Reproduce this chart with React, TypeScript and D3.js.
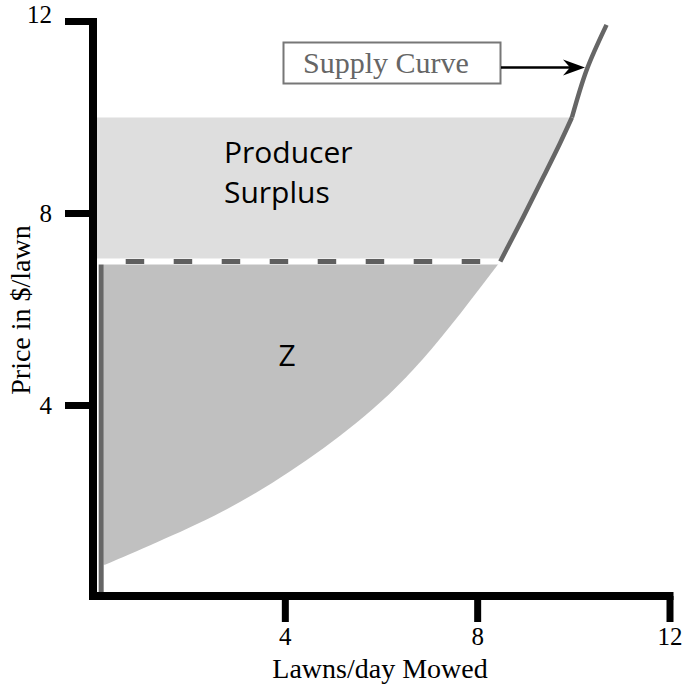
import React from "react";
import * as d3 from "d3";

// Data
const xTicks = [4, 8, 12];
const yTicks = [4, 8, 12];
const xTickLabels = ["4", "8", "12"];
const yTickLabels = ["4", "8", "12"];

// Lower part of the supply curve (edge of area Z), quantity / price
const zCurveQty = [0.25, 1.33, 2.71, 4.1, 5.48, 6.87, 8.47];
const zCurvePrice = [0.68, 1.15, 1.8, 2.63, 3.64, 4.98, 7.0];

// Supply curve between market price and top of surplus area
const supplyMidQty = [8.47, 8.95, 9.37, 9.71, 9.96];
const supplyMidPrice = [7.0, 7.93, 8.77, 9.46, 10.0];

// Supply curve above the surplus area
const supplyTopQty = [9.96, 10.27, 10.68];
const supplyTopPrice = [10.0, 11.0, 11.93];

const marketPrice = 7;
const topPrice = 10;
const leftQty = 0.08; // where the light area starts (right of axis)
const zLeftQty = 0.22; // right of the grey vertical line
const grayLineQty = 0.17;
const zBottomPrice = 0.68;

export default function App() {
  const x = d3.scaleLinear().domain([0, 12]).range([93, 670]);
  const y = d3.scaleLinear().domain([0, 12]).range([597.5, 21.5]);

  const pts = (qs: number[], ps: number[]) => qs.map((q, i) => [q, ps[i]] as [number, number]);

  const line = d3
    .line<[number, number]>()
    .x((d) => x(d[0]))
    .y((d) => y(d[1]))
    .curve(d3.curveNatural);

  const zPts = pts(zCurveQty, zCurvePrice);
  const midPts = pts(supplyMidQty, supplyMidPrice);
  const topPts = pts(supplyTopQty, supplyTopPrice);

  // area Z: top along market price, down the curve, back up left edge
  const zCurvePath = line(zPts)!; // bottom to top
  const zPath =
    `M${x(zLeftQty)},${y(zBottomPrice)} ` +
    zCurvePath.replace(/^M/, "L") +
    ` L${x(zLeftQty)},${y(marketPrice)} Z`;

  // producer surplus: between price 7 and 10, left of the supply curve
  const midPath = line(midPts)!; // bottom to top
  const psPath =
    `M${x(leftQty)},${y(marketPrice)} ` +
    midPath.replace(/^M/, "L") +
    ` L${x(leftQty)},${y(topPrice)} Z`;

  const topPath = line(topPts)!;

  const dashStart = 125.7;
  const dashEnd = x(supplyMidQty[0]);

  const serif = "'Liberation Serif', 'Times New Roman', serif";
  const sans = "'Open Sans', 'Noto Sans', sans-serif";

  return (
    <svg
      width={686}
      height={689}
      style={{ position: "absolute", left: 0, top: 0, background: "#fff" }}
    >
      {/* producer surplus area */}
      <path d={psPath} fill="#dedede" />
      {/* area Z */}
      <path d={zPath} fill="#c0c0c0" />

      {/* grey vertical line at quantity ~0 */}
      <line
        x1={x(grayLineQty)}
        x2={x(grayLineQty)}
        y1={y(marketPrice)}
        y2={y(0)}
        stroke="#666"
        strokeWidth={5}
      />

      {/* market price line: white with dark dashes */}
      <line
        x1={x(leftQty)}
        x2={dashEnd}
        y1={y(marketPrice)}
        y2={y(marketPrice)}
        stroke="#fff"
        strokeWidth={6}
      />
      <line
        x1={dashStart}
        x2={dashEnd - 10}
        y1={y(marketPrice)}
        y2={y(marketPrice)}
        stroke="#5f5f5f"
        strokeWidth={5}
        strokeDasharray="18.5 29.5"
      />

      {/* supply curve */}
      <path d={midPath} fill="none" stroke="#666" strokeWidth={4.5} />
      <path d={topPath} fill="none" stroke="#666" strokeWidth={4.5} />

      {/* axes */}
      <line x1={93} x2={93} y1={18} y2={600} stroke="#000" strokeWidth={8} />
      <line x1={89} x2={673.5} y1={596} y2={596} stroke="#000" strokeWidth={8} />
      {xTicks.map((t) => (
        <line key={"xt" + t} x1={x(t)} x2={x(t)} y1={596} y2={622} stroke="#000" strokeWidth={7} />
      ))}
      {yTicks.map((t) => (
        <line
          key={"yt" + t}
          x1={65}
          x2={t === 12 ? 97 : 93}
          y1={y(t)}
          y2={y(t)}
          stroke="#000"
          strokeWidth={7}
        />
      ))}
      {xTicks.map((t, i) => (
        <text
          key={"xl" + t}
          x={x(t)}
          y={645}
          textAnchor="middle"
          fontFamily={serif}
          fontSize={25}
          fill="#000"
        >
          {xTickLabels[i]}
        </text>
      ))}
      {yTicks.map((t, i) => (
        <text
          key={"yl" + t}
          x={52}
          y={y(t) + (t === 12 ? 1.5 : 8.5)}
          textAnchor="end"
          fontFamily={serif}
          fontSize={25}
          fill="#000"
        >
          {yTickLabels[i]}
        </text>
      ))}

      {/* axis titles */}
      <text
        x={380}
        y={678}
        textAnchor="middle"
        fontFamily={serif}
        fontSize={28}
        fill="#000"
      >
        Lawns/day Mowed
      </text>
      <text
        transform="translate(30,310) rotate(-90)"
        textAnchor="middle"
        fontFamily={serif}
        fontSize={28}
        fill="#000"
      >
        Price in $/lawn
      </text>

      {/* area labels */}
      <text x={224} y={163} fontFamily={sans} fontSize={30} fill="#000">
        Producer
      </text>
      <text x={224} y={203} fontFamily={sans} fontSize={30} fill="#000">
        Surplus
      </text>
      <text x={287} y={366} textAnchor="middle" fontFamily={sans} fontSize={30} fill="#000">
        Z
      </text>

      {/* supply curve label */}
      <rect x={283.5} y={42.5} width={217} height={41} fill="#fff" stroke="#777" strokeWidth={2} />
      <text x={386} y={73} textAnchor="middle" fontFamily={serif} fontSize={30} fill="#666">
        Supply Curve
      </text>
      <line x1={501} x2={575} y1={67.5} y2={67.5} stroke="#000" strokeWidth={2.5} />
      <path d="M585,67.5 L563,59.5 L570,67.5 L563,75.5 Z" fill="#000" />
    </svg>
  );
}
